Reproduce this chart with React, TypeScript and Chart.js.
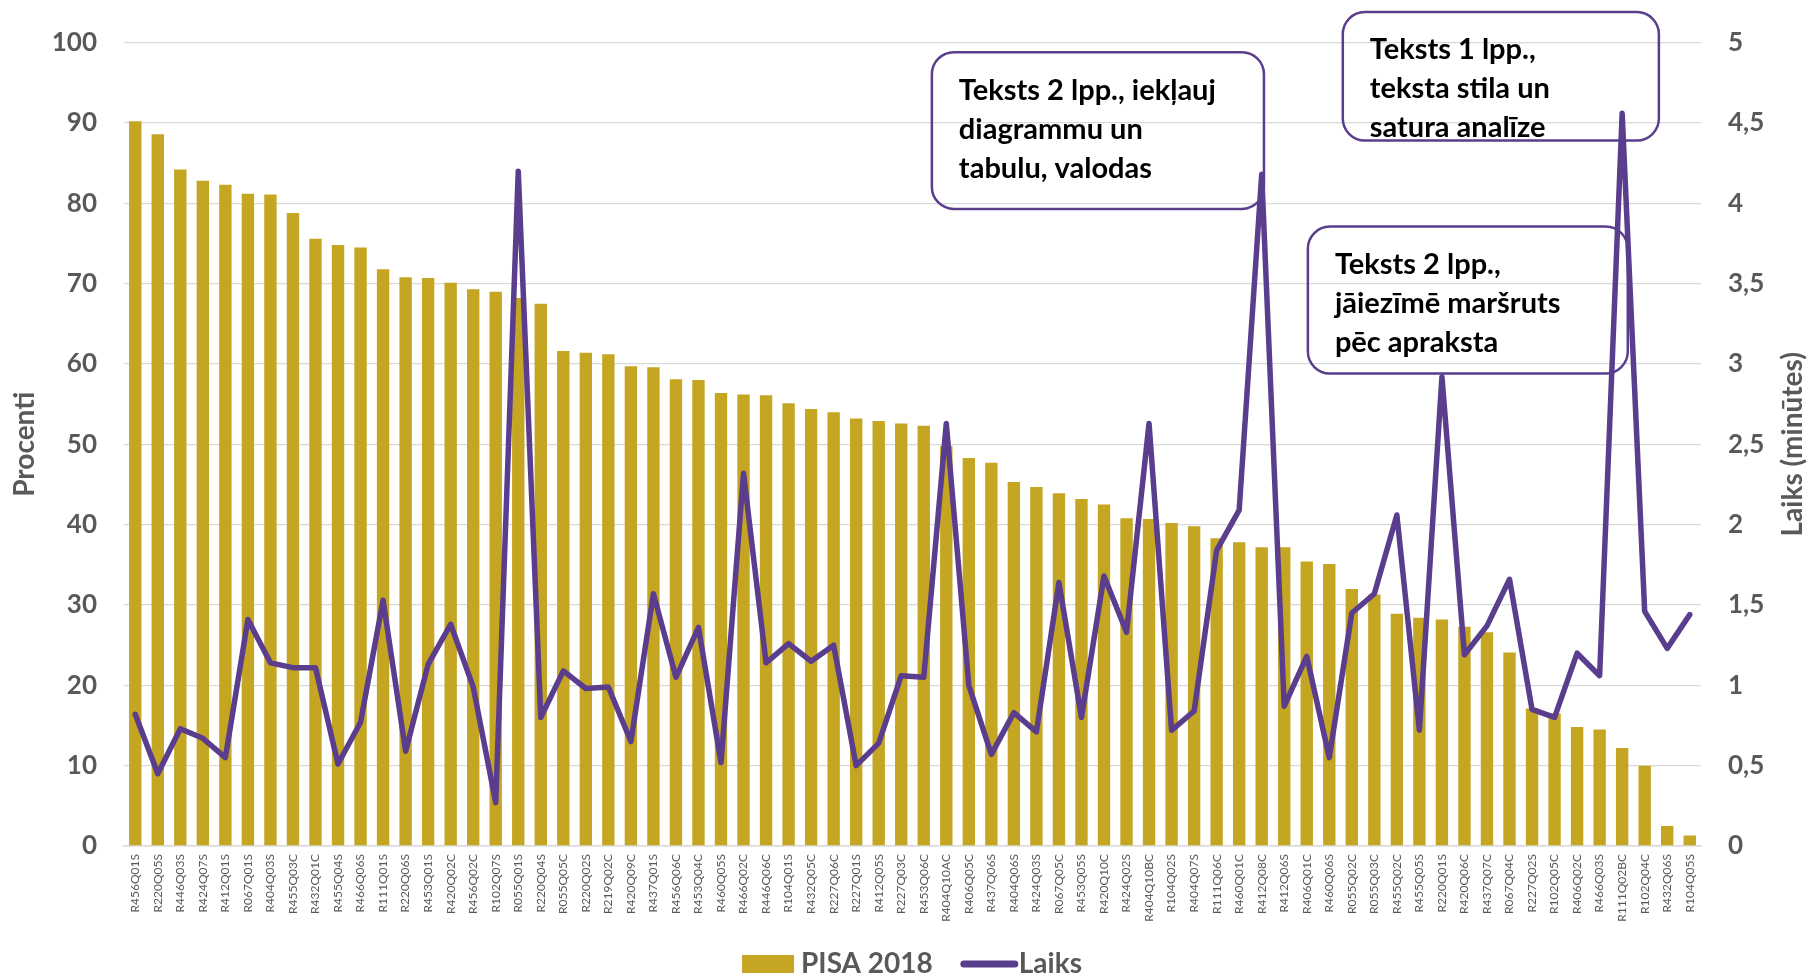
import React, { useEffect, useRef } from "react";
import { Chart, registerables } from "chart.js";

Chart.register(...registerables);

const categories = [
  "R456Q01S", "R220Q05S", "R446Q03S", "R424Q07S", "R412Q01S", "R067Q01S", "R404Q03S", "R455Q03C", "R432Q01C", "R455Q04S",
  "R466Q06S", "R111Q01S", "R220Q06S", "R453Q01S", "R420Q02C", "R456Q02C", "R102Q07S", "R055Q01S", "R220Q04S", "R055Q05C",
  "R220Q02S", "R219Q02C", "R420Q09C", "R437Q01S", "R456Q06C", "R453Q04C", "R460Q05S", "R466Q02C", "R446Q06C", "R104Q01S",
  "R432Q05C", "R227Q06C", "R227Q01S", "R412Q05S", "R227Q03C", "R453Q06C", "R404Q10AC", "R406Q05C", "R437Q06S", "R404Q06S",
  "R424Q03S", "R067Q05C", "R453Q05S", "R420Q10C", "R424Q02S", "R404Q10BC", "R104Q02S", "R404Q07S", "R111Q06C", "R460Q01C",
  "R412Q08C", "R412Q06S", "R406Q01C", "R460Q06S", "R055Q02C", "R055Q03C", "R455Q02C", "R455Q05S", "R220Q01S", "R420Q06C",
  "R437Q07C", "R067Q04C", "R227Q02S", "R102Q05C", "R406Q02C", "R466Q03S", "R111Q02BC", "R102Q04C", "R432Q06S", "R104Q05S",
];

const pisa2018 = [
  90.2, 88.6, 84.2, 82.8, 82.3, 81.2, 81.1, 78.8, 75.6, 74.8,
  74.5, 71.8, 70.8, 70.7, 70.1, 69.3, 69.0, 68.2, 67.5, 61.6,
  61.4, 61.2, 59.7, 59.6, 58.1, 58.0, 56.4, 56.2, 56.1, 55.1,
  54.4, 54.0, 53.2, 52.9, 52.6, 52.3, 49.8, 48.3, 47.7, 45.3,
  44.7, 43.9, 43.2, 42.5, 40.8, 40.7, 40.2, 39.8, 38.3, 37.8,
  37.2, 37.2, 35.4, 35.1, 32.0, 31.3, 28.9, 28.4, 28.2, 27.3,
  26.6, 24.1, 17.1, 16.5, 14.8, 14.5, 12.2, 10.0, 2.5, 1.3,
];

const laiks = [
  0.82, 0.45, 0.73, 0.67, 0.55, 1.41, 1.14, 1.11, 1.11, 0.51,
  0.77, 1.53, 0.59, 1.13, 1.38, 0.99, 0.27, 4.2, 0.8, 1.09,
  0.98, 0.99, 0.65, 1.57, 1.05, 1.36, 0.52, 2.32, 1.14, 1.26,
  1.15, 1.25, 0.5, 0.64, 1.06, 1.05, 2.63, 1.0, 0.57, 0.83,
  0.71, 1.64, 0.8, 1.68, 1.33, 2.63, 0.72, 0.84, 1.84, 2.09,
  4.18, 0.87, 1.18, 0.55, 1.45, 1.57, 2.06, 0.72, 2.92, 1.19,
  1.37, 1.66, 0.85, 0.8, 1.2, 1.06, 4.56, 1.46, 1.23, 1.44,
];

const leftTicksMax = 100;
const rightTicksMax = 5;
const rightTitle = "Laiks (minūtes)";

// Callout boxes, anchored in data space (category index, percent)
const callouts = [
  { lines: ["Teksts 2 lpp., iekļauj", "diagrammu un", "tabulu, valodas"], x0: 35.36, x1: 50.1, yTop: 98.8, yBottom: 79.3 },
  { lines: ["Teksts 1 lpp.,", "teksta stila un", "satura analīze"], x0: 53.6, x1: 67.63, yTop: 103.8, yBottom: 87.8 },
  { lines: ["Teksts 2 lpp.,", "jāiezīmē maršruts", "pēc apraksta"], x0: 52.05, x1: 66.25, yTop: 77.1, yBottom: 58.8 },
];

const GOLD = "#C4A623";
const PURPLE = "#5B3D8E";
const GRAY = "#595959";
const FONT = "Lato, 'Open Sans', sans-serif";

const calloutPlugin = {
  id: "callouts",
  beforeDatasetsDraw(chart: any) {
    const ctx = chart.ctx;
    const xs = chart.scales.x;
    const ys = chart.scales.y;
    ctx.save();
    for (const c of callouts) {
      const l = xs.getPixelForValue(c.x0);
      const r = xs.getPixelForValue(c.x1);
      const t = ys.getPixelForValue(c.yTop);
      const b = ys.getPixelForValue(c.yBottom);
      ctx.beginPath();
      ctx.roundRect(l, t, r - l, b - t, 22);
      ctx.lineWidth = 2.5;
      ctx.strokeStyle = PURPLE;
      ctx.stroke();
      ctx.fillStyle = "#000";
      ctx.font = `bold 29px ${FONT}`;
      ctx.textBaseline = "middle";
      ctx.textAlign = "left";
      c.lines.forEach((ln, i) => {
        ctx.fillText(ln, l + 27, t + 38 + i * 39);
      });
    }
    ctx.restore();
  },
};

const rightTitlePlugin = {
  id: "rightTitle",
  afterDraw(chart: any) {
    const ctx = chart.ctx;
    const ca = chart.chartArea;
    ctx.save();
    ctx.translate(chart.width - 19, (ca.top + ca.bottom) / 2);
    ctx.rotate(-Math.PI / 2);
    ctx.font = `bold 28px ${FONT}`;
    ctx.fillStyle = GRAY;
    ctx.textAlign = "center";
    ctx.textBaseline = "middle";
    ctx.fillText(rightTitle, 0, 0);
    ctx.restore();
  },
};

const legendPlugin = {
  id: "customLegend",
  afterDraw(chart: any) {
    const ctx = chart.ctx;
    const ds = chart.data.datasets;
    ctx.save();
    ctx.font = `bold 28px ${FONT}`;
    ctx.textBaseline = "alphabetic";
    ctx.textAlign = "left";
    const boxW = 52;
    const lineW = 57;
    const t1 = ds[0].label;
    const t2 = ds[1].label;
    const w1 = ctx.measureText(t1).width;
    const w2 = ctx.measureText(t2).width;
    const total = boxW + 7 + w1 + 28 + lineW + 1 + w2;
    let x = chart.width / 2 + 6 - total / 2;
    const baseY = 973;
    ctx.fillStyle = ds[0].backgroundColor;
    ctx.fillRect(x, 955, boxW, 18);
    x += boxW + 7;
    ctx.fillStyle = GRAY;
    ctx.fillText(t1, x, baseY);
    x += w1 + 28;
    ctx.strokeStyle = ds[1].borderColor;
    ctx.lineWidth = 7;
    ctx.lineCap = "round";
    ctx.beginPath();
    ctx.moveTo(x + 3, 964);
    ctx.lineTo(x + lineW - 3, 964);
    ctx.stroke();
    x += lineW + 1;
    ctx.fillStyle = GRAY;
    ctx.fillText(t2, x, baseY);
    ctx.restore();
  },
};

export default function App() {
  const ref = useRef<HTMLCanvasElement>(null);
  useEffect(() => {
    if (!ref.current) return;
    const chart = new Chart(ref.current, {
      type: "bar",
      data: {
        labels: categories,
        datasets: [
          {
            type: "bar",
            label: "PISA 2018",
            data: pisa2018,
            backgroundColor: GOLD,
            yAxisID: "y",
            categoryPercentage: 1,
            barPercentage: 0.55,
            order: 1,
          },
          {
            type: "line",
            label: "Laiks",
            data: laiks,
            borderColor: PURPLE,
            backgroundColor: PURPLE,
            borderWidth: 5.5,
            pointRadius: 0,
            tension: 0,
            borderJoinStyle: "round",
            borderCapStyle: "round",
            yAxisID: "y1",
            order: 0,
          } as any,
        ],
      },
      options: {
        responsive: false,
        animation: false,
        layout: { padding: { top: 42, left: 0, right: 0, bottom: 0 } },
        plugins: {
          legend: { display: false },
          tooltip: { enabled: false },
          title: { display: false },
        },
        scales: {
          x: {
            grid: { display: false, drawTicks: false },
            border: { display: true, color: "#d9d9d9", width: 1.5 },
            ticks: {
              autoSkip: false,
              maxRotation: 90,
              minRotation: 90,
              padding: 8,
              color: GRAY,
              font: { family: FONT, size: 12 },
            },
            afterFit: (s: any) => {
              s.height = 130;
            },
          },
          y: {
            position: "left",
            min: 0,
            max: leftTicksMax,
            ticks: {
              stepSize: 10,
              padding: 27,
              color: GRAY,
              font: { family: FONT, size: 26, weight: "bold" },
            },
            grid: { color: "#d9d9d9", lineWidth: 1.3, drawTicks: false },
            border: { display: false },
            title: {
              display: true,
              text: "Procenti",
              color: GRAY,
              font: { family: FONT, size: 28, weight: "bold" },
              padding: { top: 8, bottom: 0 },
            },
            afterFit: (s: any) => {
              s.width = 124;
            },
          },
          y1: {
            position: "right",
            min: 0,
            max: rightTicksMax,
            ticks: {
              stepSize: 0.5,
              padding: 27,
              color: GRAY,
              font: { family: FONT, size: 26, weight: "bold" },
              callback: (v: any) => String(v).replace(".", ","),
            },
            grid: { display: false, drawTicks: false },
            border: { display: false },
            title: { display: false },
            afterFit: (s: any) => {
              s.width = 111;
            },
          },
        },
      },
      plugins: [calloutPlugin, rightTitlePlugin, legendPlugin],
    });
    return () => chart.destroy();
  }, []);
  return (
    <div style={{ position: "fixed", left: 0, top: 0, width: 1812, height: 976, background: "#fff" }}>
      <canvas ref={ref} width={1812} height={976} style={{ display: "block" }} />
    </div>
  );
}
